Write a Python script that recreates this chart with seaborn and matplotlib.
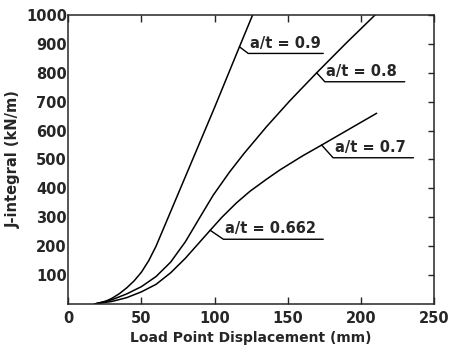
import pandas as pd
import seaborn as sns
import matplotlib.pyplot as plt

sns.set_theme(context='paper', style='ticks')
plt.rcParams['font.family'] = ['DejaVu Sans']

# curves: displacement (mm) vs J-integral (kN/m)
x_09 = [18, 25, 30, 35, 40, 45, 50, 55, 60, 70, 85, 100, 117, 126]
j_09 = [0, 8, 20, 36, 56, 80, 110, 150, 200, 320, 500, 680, 890, 1000]

x_08 = [18, 30, 40, 50, 60, 70, 80, 90, 99, 110, 120, 135.6, 151.6, 169.8, 190, 209.7]
j_08 = [0, 15, 35, 60, 95, 145, 215, 300, 376, 455, 520, 614, 704, 800, 903, 1000]

x_07 = [18, 30, 40, 50, 60, 70, 80, 90, 97, 105, 115, 124.2, 135.6, 144.7, 160, 173.2, 192, 210.8]
j_07 = [0, 9, 22, 42, 68, 108, 158, 215, 255, 300, 350, 390, 432, 464, 512, 550, 605, 660]

labels = ['a/t = 0.9', 'a/t = 0.8', 'a/t = 0.7', 'a/t = 0.662']
# (curve point, underline start, underline end) per label, data units
lead_x = [(117, 123, 174.3), (169.8, 175.4, 230), (173.2, 181, 236), (97, 106, 174.3)]
lead_y = [(890, 867), (800, 769), (550, 506), (255, 224)]

df = pd.concat([
    pd.DataFrame({'disp': x_09, 'J': j_09, 'case': '0.9'}),
    pd.DataFrame({'disp': x_08, 'J': j_08, 'case': '0.8'}),
    pd.DataFrame({'disp': x_07, 'J': j_07, 'case': '0.7'}),
])

fig = plt.figure(figsize=(4.51, 3.49), dpi=100)
ax = fig.add_axes([0.1514, 0.129, 0.8109, 0.828])

sns.lineplot(data=df, x='disp', y='J', hue='case', palette=['black'] * 3,
             legend=False, linewidth=1.1, sort=False, estimator=None, ax=ax)

for lab, (xc, xs, xe), (yc, yu) in zip(labels, lead_x, lead_y):
    ax.plot([xc, xs, xe], [yc, yu, yu], color='black', linewidth=1.0)
    ax.text(xs + 1, yu + 10, lab, fontsize=10.5, fontweight='bold',
            ha='left', va='bottom')

ax.set_xlim(0, 250)
ax.set_ylim(0, 1000)
ax.set_xticks([0, 50, 100, 150, 200, 250])
ax.set_yticks(range(100, 1001, 100))
ax.tick_params(axis='x', direction='in', length=5, width=1, labelsize=10.5, pad=5,
               top=True)
ax.tick_params(axis='y', direction='in', length=4, width=1, labelsize=10.5, pad=1,
               left=False, right=True, labelright=False)
for s in ax.spines.values():
    s.set_linewidth(1.1)
for lab in ax.get_xticklabels() + ax.get_yticklabels():
    lab.set_fontweight('bold')

ax.set_xlabel('Load Point Displacement (mm)', fontsize=10, fontweight='bold', labelpad=4)
ax.set_ylabel('J-integral (kN/m)', fontsize=10.5, fontweight='bold', labelpad=4)

fig.savefig('out.png', dpi=100)
